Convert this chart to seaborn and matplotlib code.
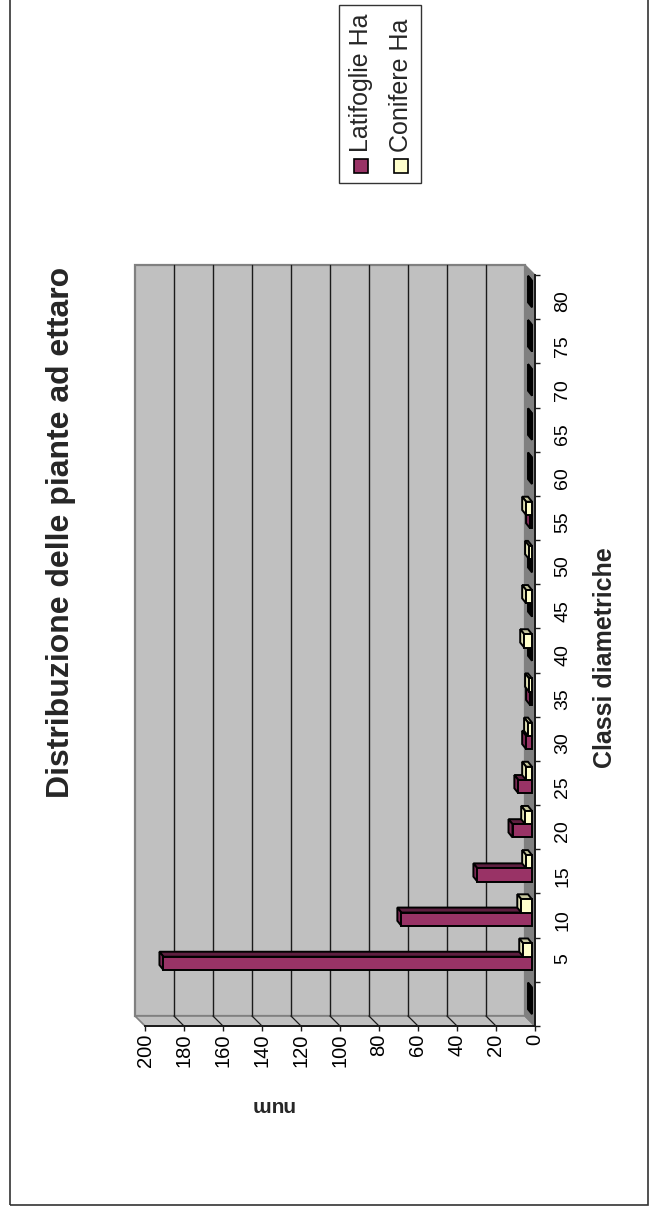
import numpy as np
import pandas as pd
import matplotlib
matplotlib.use("Agg")
import matplotlib.pyplot as plt
import matplotlib.transforms as mtransforms
from matplotlib.patches import Polygon, Rectangle
from matplotlib.lines import Line2D
import seaborn as sns

# ---- data -------------------------------------------------------------
classi = ["", "5", "10", "15", "20", "25", "30", "35", "40",
          "45", "50", "55", "60", "65", "70", "75", "80"]
latifoglie = [0, 189, 67, 28, 10, 7, 3, 1, 0, 0, 0, 1, 0, 0, 0, 0, 0]
conifere = [0, 4.5, 5.5, 3, 3.5, 3, 2, 1.5, 4, 3, 1.5, 3, 0, 0, 0, 0, 0]
serie = ["Latifoglie Ha", "Conifere Ha"]
valori_asse = [0, 20, 40, 60, 80, 100, 120, 140, 160, 180, 200]

titolo = "Distribuzione delle piante ad ettaro"
titolo_cat = "Classi diametriche"
titolo_val = "num"

# ---- style ------------------------------------------------------------
sns.set_theme(style="white")
plt.rcParams["font.family"] = ["Liberation Sans", "DejaVu Sans"]

col_front = {serie[0]: "#993366", serie[1]: "#FFFFCC"}
col_end = {serie[0]: "#7d2a55", serie[1]: "#E0E0B4"}
col_side = {serie[0]: "#5e1f40", serie[1]: "#C8C89E"}
wall_c = "#C0C0C0"
floor_c = "#808080"
ink = "#1a1a1a"
edge_w = 1.4

W, H = 652, 1211
fig = plt.figure(figsize=(W / 100, H / 100), dpi=100)
fig.patch.set_facecolor("white")


def fx(px):
    return px / W


def fy(py):
    return 1 - py / H


def px_off(dx, dy):
    return mtransforms.ScaledTranslation(dx / 100, dy / 100, fig.dpi_scale_trans)


# outer frame of the chart area
fig.add_artist(Rectangle((fx(10), fy(1205)), fx(648) - fx(10), fy(-30) - fy(1205),
                         transform=fig.transFigure, fill=False, ec="#333333", lw=1.2))

# front plane of the plot (value axis horizontal, categories vertical)
ax = fig.add_axes([fx(145), fy(1026), fx(535) - fx(145), (1026 - 275) / H])
ax.patch.set_visible(False)

n = len(classi)
df = pd.DataFrame({
    "classe": classi * 2,
    "serie": [serie[0]] * n + [serie[1]] * n,
    "valore": latifoglie + conifere,
})

sns.barplot(data=df, y="classe", x="valore", hue="serie", order=classi,
            hue_order=serie, orient="h", width=0.6, saturation=1,
            palette=[col_front[s] for s in serie], edgecolor="black",
            linewidth=edge_w, legend=False, ax=ax)

ax.set_xlim(200, 0)
ax.set_ylim(-0.5, n - 0.5)

# depth offsets in pixels (dx, dy with dy upwards)
WALL = (-10, 10)
FRONT = (-3, 3)
DEPTH = (-4, 5)

# back wall with gridlines
ax.add_patch(Rectangle((0, 0), 1, 1, transform=ax.transAxes + px_off(*WALL),
                       fc=wall_c, ec=floor_c, lw=1.6, zorder=0.3, clip_on=False))
blend = mtransforms.blended_transform_factory(ax.transData, ax.transAxes)
for v in valori_asse[1:-1]:
    ax.add_line(Line2D([v, v], [0, 1], transform=blend + px_off(*WALL),
                       color=ink, lw=1.0, zorder=0.4, clip_on=False))

ident = mtransforms.IdentityTransform()
w = np.array(WALL, dtype=float)

# side wall below the first class, with tick connectors
A = ax.transData.transform((valori_asse[-1], -0.5))
B = ax.transData.transform((valori_asse[0], -0.5))
ax.add_patch(Polygon([A, B, B + w, A + w], closed=True, transform=ident,
                     fc=wall_c, ec=floor_c, lw=1.2, zorder=0.35, clip_on=False))
for v in valori_asse[1:-1]:
    p = ax.transData.transform((v, -0.5))
    ax.add_line(Line2D([p[0], p[0] + w[0]], [p[1], p[1] + w[1]], transform=ident,
                       color=ink, lw=0.9, zorder=0.45, clip_on=False))

# floor along the zero line
C = ax.transData.transform((valori_asse[0], n - 0.5))
ax.add_patch(Polygon([B, C, C + w, B + w], closed=True, transform=ident,
                     fc=floor_c, ec=floor_c, lw=1.0, zorder=0.5, clip_on=False))

# 3-D blocks built around the seaborn bars
f = np.array(FRONT, dtype=float)
d = np.array(DEPTH, dtype=float)
bars = sorted([p for p in ax.patches if isinstance(p, Rectangle)
               and p.get_height() < 1 and p.get_y() > -1],
              key=lambda r: r.get_y())
front_rgb = {s: np.array(matplotlib.colors.to_rgb(c)) for s, c in col_front.items()}
z = 2.0
for bar in bars:
    rgb = np.array(bar.get_facecolor()[:3])
    name = min(serie, key=lambda s: np.abs(front_rgb[s] - rgb).sum())
    x0, x1 = bar.get_x(), bar.get_x() + bar.get_width()
    y0, y1 = bar.get_y(), bar.get_y() + bar.get_height()
    if x1 < x0:
        x0, x1 = x1, x0
    e0 = ax.transData.transform((x1, y0)) + f
    e1 = ax.transData.transform((x1, y1)) + f
    b1 = ax.transData.transform((x0, y1)) + f
    end_face = Polygon([e0, e1, e1 + d, e0 + d], closed=True, transform=ident,
                       fc=col_end[name] if x1 > x0 else "black", ec="black",
                       lw=edge_w, zorder=z, clip_on=False)
    side_face = Polygon([e1, b1, b1 + d, e1 + d], closed=True, transform=ident,
                        fc=col_side[name], ec="black", lw=edge_w, zorder=z,
                        clip_on=False)
    ax.add_patch(side_face)
    ax.add_patch(end_face)
    bar.set_transform(ax.transData + px_off(*FRONT))
    bar.set_zorder(z + 0.1)
    bar.set_clip_on(False)
    z += 0.2

# axes lines, ticks and labels
for side in ["top", "left"]:
    ax.spines[side].set_visible(False)
for side in ["bottom", "right"]:
    ax.spines[side].set_visible(True)
    ax.spines[side].set_color(ink)
    ax.spines[side].set_linewidth(1.4)
    ax.spines[side].set_zorder(1.5)

ax.set_xticks(valori_asse)
ax.set_xticklabels([str(v) for v in valori_asse])
ax.tick_params(axis="x", which="major", direction="out", length=3.6, width=1.0,
               color=ink, labelsize=14.5, labelrotation=90, pad=2, bottom=True,
               labelcolor="black")

ax.yaxis.tick_right()
ax.set_yticks(np.arange(n + 1) - 0.5)
ax.set_yticklabels([""] * (n + 1))
ax.set_yticks(np.arange(n), minor=True)
ax.set_yticklabels(classi, minor=True)
ax.tick_params(axis="y", which="major", direction="out", length=3.6, width=1.0,
               color=ink, right=True, left=False, labelright=False, labelleft=False)
ax.tick_params(axis="y", which="minor", length=0, right=True, left=False,
               labelright=True, labelleft=False, labelrotation=90, labelsize=14,
               pad=14, labelcolor="black")
ax.grid(False)

ax.set_xlabel(titolo_val, rotation=180, fontsize=15, fontweight="bold",
              ha="center", va="center")
ax.xaxis.set_label_coords((272 - 145) / 390, -(1105 - 1026) / 751)
ax.yaxis.set_label_position("right")
ax.set_ylabel(titolo_cat, rotation=90, fontsize=18, fontweight="bold",
              ha="center", va="center")
ax.yaxis.set_label_coords((605 - 145) / 390, (1026 - 658) / 751)

# title
fig.text(fx(61), fy(532), titolo, rotation=90, fontsize=23, fontweight="bold",
         ha="center", va="center")

# legend
fig.add_artist(Rectangle((fx(339), fy(183)), fx(421) - fx(339), fy(5) - fy(183),
                         transform=fig.transFigure, fc="white", ec="#333333", lw=1.0))
for s, cx in zip(serie, [361, 401]):
    fig.add_artist(Rectangle((fx(cx - 7), fy(173)), 14 / W, 14 / H,
                             transform=fig.transFigure, fc=col_front[s], ec="black",
                             lw=1.2))
    fig.text(fx(cx), fy(152), s, rotation=90, fontsize=18, ha="center", va="bottom")

fig.savefig("out.png", dpi=100, facecolor="white")
